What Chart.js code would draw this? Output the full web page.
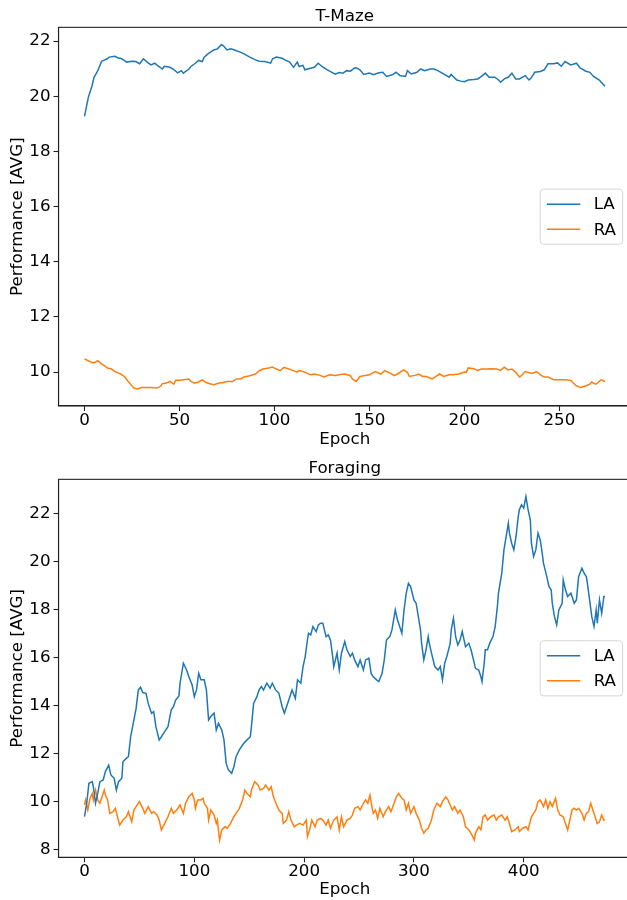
<!DOCTYPE html>
<html>
<head>
<meta charset="utf-8">
<script src="https://cdn.jsdelivr.net/npm/chart.js@4/dist/chart.umd.min.js"></script>
<style>
  html, body { margin: 0; padding: 0; background: #fff; overflow: hidden; width: 627px; height: 900px; }
  canvas { position: absolute; left: 0; }
  #tmaze { top: 0; }
  #foraging { top: 450px; }
</style>
</head>
<body>
<canvas id="tmaze" width="640" height="450"></canvas>
<canvas id="foraging" width="640" height="450"></canvas>
<script>
// ---- T-Maze: average performance per epoch ----
const tmazeLaEpochs = [0,2,4,5,7,9,10,12,13,16,18,19,21,22,25,27,29,31,33,35,37,38,41,42,45,47,49,51,52,55,56,58,60,62,63,65,68,70,72,73,75,77,79,82,84,87,90,92,95,98,99,101,104,106,108,110,112,113,115,116,119,121,123,125,127,129,132,134,136,138,140,142,143,145,147,150,152,155,157,159,162,164,166,169,170,172,175,177,179,182,184,186,189,192,193,196,198,200,202,205,207,209,211,213,216,218,219,221,223,225,227,229,232,234,235,237,240,242,244,247,249,251,253,256,259,261,264,266,268,271,272,274];
const tmazeLaValues = [19.27,19.96,20.39,20.69,20.93,21.27,21.30,21.36,21.42,21.45,21.38,21.38,21.30,21.24,21.27,21.26,21.18,21.36,21.24,21.14,21.20,21.14,20.99,21.09,21.05,20.97,20.85,20.93,20.84,20.99,21.08,21.18,21.30,21.26,21.42,21.54,21.68,21.72,21.87,21.84,21.68,21.72,21.68,21.60,21.54,21.42,21.32,21.27,21.26,21.20,21.36,21.42,21.38,21.30,21.24,21.05,21.24,21.08,21.12,20.96,21.02,21.05,21.20,21.08,20.99,20.91,20.80,20.86,20.84,20.93,20.91,21.02,21.03,20.96,20.79,20.84,20.78,20.85,20.87,20.72,20.78,20.87,20.75,20.72,20.93,20.81,20.87,20.99,20.93,20.99,20.99,20.93,20.81,20.69,20.79,20.59,20.55,20.53,20.59,20.61,20.63,20.72,20.84,20.69,20.69,20.59,20.51,20.63,20.69,20.84,20.63,20.63,20.75,20.59,20.65,20.87,20.90,20.96,21.18,21.18,21.21,21.09,21.26,21.14,21.20,21.02,20.91,20.87,20.72,20.59,20.51,20.36];
const tmazeRaEpochs = [0,2,4,5,7,9,11,12,14,16,18,19,21,23,25,26,28,30,33,35,38,40,41,43,45,47,48,50,52,55,56,58,60,62,64,66,68,71,73,75,78,80,82,84,87,90,92,94,97,99,101,103,105,106,109,112,113,116,119,121,124,126,129,132,134,137,140,141,143,145,148,150,153,156,158,161,163,165,168,170,171,174,176,178,180,183,185,187,189,192,194,197,200,201,202,205,207,209,212,214,217,219,221,223,225,227,229,230,232,235,236,238,240,242,244,247,250,253,256,258,259,261,263,266,267,269,270,272,274];
const tmazeRaValues = [10.48,10.41,10.35,10.33,10.41,10.30,10.21,10.15,10.12,10.02,9.96,9.93,9.84,9.66,9.50,9.42,9.39,9.44,9.44,9.44,9.42,9.48,9.58,9.60,9.66,9.56,9.70,9.70,9.72,9.75,9.66,9.60,9.64,9.72,9.62,9.58,9.54,9.60,9.62,9.66,9.66,9.75,9.75,9.82,9.87,9.93,10.05,10.11,10.15,10.18,10.11,10.05,10.17,10.15,10.08,10.00,10.06,10.00,9.90,9.93,9.88,9.82,9.90,9.88,9.90,9.93,9.87,9.75,9.66,9.84,9.88,9.90,10.02,9.93,10.05,9.96,9.87,9.94,10.08,9.99,9.84,9.88,9.93,9.84,9.84,9.75,9.84,9.93,9.84,9.90,9.90,9.93,10.00,9.99,10.15,10.12,10.06,10.11,10.11,10.12,10.11,10.06,10.18,10.08,10.11,9.99,9.82,9.87,10.02,9.96,9.96,10.02,9.90,9.82,9.82,9.72,9.72,9.72,9.70,9.56,9.50,9.44,9.48,9.56,9.64,9.56,9.60,9.72,9.66];
const tmazeXTicks = [0, 50, 100, 150, 200, 250];
const tmazeYTicks = [10, 12, 14, 16, 18, 20, 22];

// ---- Foraging: average performance per epoch ----
const foragingLaEpochs = [0,2,4,7,8,10,12,14,17,19,22,24,27,29,31,34,35,38,40,42,45,47,49,51,53,56,58,61,63,65,68,70,73,76,79,81,83,86,87,89,90,93,95,98,100,102,104,106,109,111,113,115,118,120,122,125,127,129,131,134,136,138,141,145,148,151,152,154,157,159,161,163,166,169,171,174,177,180,182,184,187,189,192,194,197,199,201,203,204,206,208,211,213,215,217,220,222,224,226,227,230,232,234,237,239,242,244,246,249,251,254,256,259,261,263,266,268,271,273,275,278,280,283,285,287,289,291,293,295,297,300,302,305,306,307,309,311,313,314,316,319,322,324,326,328,330,333,334,336,338,340,342,344,345,347,350,352,355,356,359,361,362,364,365,367,369,372,374,376,377,380,382,384,386,387,389,391,393,395,396,398,400,402,404,406,407,409,411,413,415,416,418,421,423,425,426,428,430,432,435,436,438,440,443,446,448,450,453,455,457,458,460,462,464,466,467,469,471,473,474];
const foragingLaValues = [9.36,9.92,10.75,10.82,10.61,9.92,10.33,10.82,10.89,11.24,11.51,11.10,10.96,10.47,10.82,10.96,11.65,11.79,11.86,12.69,13.39,13.88,14.64,14.75,14.53,14.50,14.08,13.67,13.74,13.11,12.56,12.69,12.90,13.11,13.81,13.94,14.22,14.39,14.92,15.47,15.75,15.47,15.19,14.85,14.36,14.64,15.33,15.06,15.06,14.64,13.39,13.53,13.67,12.97,13.25,12.97,12.56,11.58,11.31,11.17,11.44,11.86,12.14,12.42,12.56,12.69,13.11,14.08,14.36,14.64,14.78,14.64,14.92,14.71,14.92,14.64,14.50,13.94,13.67,13.94,14.36,14.64,14.29,15.06,14.92,15.61,16.03,16.72,17.00,16.93,17.28,17.07,17.35,17.42,17.42,16.86,16.93,16.72,16.03,15.61,16.17,15.47,16.17,16.65,16.31,16.03,16.17,15.89,15.61,15.89,15.47,15.89,15.96,15.33,15.19,15.06,14.99,15.33,15.89,16.72,16.86,17.14,17.97,17.56,17.28,17.00,17.97,18.67,19.08,18.94,18.39,18.25,17.42,17.14,16.58,15.89,16.31,16.86,16.58,16.17,15.61,15.47,15.61,15.06,15.75,16.03,16.58,17.14,17.63,16.86,16.51,16.72,17.07,16.86,16.44,16.58,16.31,15.75,15.54,15.47,15.19,14.99,15.75,16.31,16.31,16.58,16.86,17.28,18.11,18.67,19.50,20.47,21.03,21.58,21.17,20.75,20.47,21.03,21.86,22.14,22.35,22.21,22.69,22.14,21.72,20.75,20.19,20.47,21.17,20.89,20.61,19.92,19.36,18.94,18.81,18.25,17.69,17.35,17.97,18.25,19.22,18.81,18.53,18.67,18.25,18.39,19.36,19.71,19.50,19.36,19.08,18.39,17.69,17.28,17.97,17.42,18.39,17.83,18.53,18.53];
const foragingRaEpochs = [0,1,3,5,7,8,10,12,14,16,18,19,21,23,26,28,30,32,35,38,40,43,45,47,50,53,55,58,61,63,66,68,70,73,76,79,81,84,87,90,92,95,98,100,101,103,106,108,109,112,113,115,118,120,121,123,125,128,130,133,136,138,141,144,146,148,151,152,155,158,160,163,165,168,170,172,175,177,180,181,184,186,188,191,193,196,199,202,203,205,207,210,212,215,217,220,222,224,227,230,232,234,236,239,242,244,246,249,251,254,256,258,260,262,263,265,267,269,272,274,277,279,282,284,286,289,291,293,295,297,300,302,305,307,309,311,313,316,318,321,324,326,329,331,333,335,337,340,342,345,347,350,352,355,356,359,361,363,365,367,370,373,375,377,380,383,385,387,389,392,395,396,399,402,404,407,409,411,413,415,418,420,422,424,426,429,431,433,436,438,440,442,444,446,448,450,453,455,457,459,461,463,465,467,469,471,473,474];
const foragingRaValues = [9.85,10.06,9.64,10.13,10.33,10.06,10.47,10.06,9.92,10.19,10.47,10.26,10.06,9.50,9.57,9.71,9.36,9.01,9.22,9.36,9.57,9.15,9.64,9.78,9.99,9.71,9.50,9.78,9.50,9.57,9.43,9.22,8.81,9.08,9.36,9.71,9.50,9.64,9.85,9.50,9.92,10.19,10.33,10.06,9.71,10.06,10.06,10.13,9.92,9.71,9.22,9.64,9.43,9.08,9.22,8.39,8.81,8.94,8.88,9.08,9.36,9.50,9.71,10.06,10.47,10.33,10.19,10.47,10.82,10.68,10.47,10.54,10.68,10.47,10.61,10.19,9.85,9.64,9.50,9.08,9.22,9.57,9.22,8.94,9.01,9.08,9.01,9.22,8.53,8.81,9.22,8.94,9.22,9.29,9.22,9.01,9.22,8.88,9.22,9.36,8.81,9.36,8.94,9.22,9.29,9.43,9.71,9.78,9.64,9.92,10.06,9.92,10.26,9.71,9.50,9.64,9.29,9.71,9.36,9.57,9.78,9.57,9.92,10.19,10.33,10.13,10.06,9.64,9.92,9.50,9.78,9.50,9.22,8.88,8.67,8.81,8.88,9.22,9.64,9.92,9.78,9.99,10.19,10.06,9.85,9.64,9.78,9.50,9.64,9.36,8.94,8.81,8.67,8.39,8.67,8.94,8.81,9.36,9.43,9.22,9.36,9.43,9.22,9.36,9.43,9.22,9.36,9.08,8.74,8.81,8.94,8.74,8.88,8.94,8.81,9.36,9.50,9.64,9.99,10.06,9.78,10.06,9.71,9.99,9.78,10.13,9.64,9.43,9.36,9.08,8.81,9.22,9.64,9.71,9.64,9.71,9.50,9.22,9.50,9.57,9.92,9.64,9.36,9.08,9.15,9.43,9.22,9.25];
const foragingXTicks = [0, 100, 200, 300, 400];
const foragingYTicks = [8, 10, 12, 14, 16, 18, 20, 22];

const seriesLabels = ['LA', 'RA'];
const seriesColors = ['#1f77b4', '#ff7f0e'];

const FONT_FAMILY = '"DejaVu Sans", "Liberation Sans", sans-serif';
const FS = 16.7;
const baseFont = { family: FONT_FAMILY, size: FS, weight: 'normal', lineHeight: 1.2 };

Chart.defaults.font.family = FONT_FAMILY;
Chart.defaults.color = '#000';

// Closed frame around the plotting area (top and right spines).
const axesFrame = {
  id: 'axesFrame',
  afterDraw(chart) {
    const { ctx, chartArea: a } = chart;
    ctx.save();
    ctx.strokeStyle = '#222';
    ctx.lineWidth = 1.1;
    ctx.strokeRect(a.left, a.top, a.right - a.left, a.bottom - a.top);
    ctx.restore();
  }
};

// Legend box placed at the centre-right of the plotting area.
const boxLegend = {
  id: 'boxLegend',
  afterDraw(chart) {
    const { ctx, chartArea: a } = chart;
    const sets = chart.data.datasets;
    ctx.save();
    ctx.font = `${FS}px ${FONT_FAMILY}`;
    const tw = Math.max(...sets.map(d => ctx.measureText(d.label).width));
    const pad = 0.4 * FS, hl = 2 * FS, hp = 0.8 * FS, ls = 0.5 * FS;
    const w = pad + hl + hp + tw + pad;
    const h = 2 * pad + sets.length * FS + (sets.length - 1) * ls;
    const x = a.right - 0.5 * FS - w;
    const y = (a.top + a.bottom) / 2 - h / 2;
    ctx.beginPath();
    ctx.roundRect(x, y, w, h, 0.2 * FS);
    ctx.fillStyle = 'rgba(255,255,255,0.8)';
    ctx.fill();
    ctx.strokeStyle = '#d6d6d6';
    ctx.lineWidth = 1;
    ctx.stroke();
    ctx.textBaseline = 'middle';
    ctx.textAlign = 'left';
    sets.forEach((d, i) => {
      const cy = y + pad + i * (FS + ls) + FS / 2;
      ctx.beginPath();
      ctx.moveTo(x + pad, cy);
      ctx.lineTo(x + pad + hl, cy);
      ctx.strokeStyle = d.borderColor;
      ctx.lineWidth = d.borderWidth;
      ctx.stroke();
      ctx.fillStyle = '#000';
      ctx.fillText(d.label, x + pad + hl + hp, cy + 1);
    });
    ctx.restore();
  }
};

function pairs(xs, ys) {
  return xs.map((x, i) => ({ x, y: ys[i] }));
}

function makeChart(id, opts) {
  return new Chart(document.getElementById(id), {
    type: 'line',
    data: {
      datasets: opts.series.map((s, i) => ({
        label: seriesLabels[i],
        data: pairs(s[0], s[1]),
        borderColor: seriesColors[i],
        backgroundColor: seriesColors[i],
        borderWidth: 1.5,
        pointRadius: 0,
        tension: 0,
        fill: false
      }))
    },
    options: {
      responsive: false,
      animation: false,
      devicePixelRatio: 1,
      layout: { padding: { left: 0, right: 9, top: 0, bottom: 0 } },
      plugins: {
        legend: { display: false },
        tooltip: { enabled: false },
        title: {
          display: true,
          text: opts.title,
          fullSize: false,
          color: '#000',
          font: baseFont,
          padding: { top: opts.titleTop, bottom: opts.titleBottom }
        }
      },
      scales: {
        x: {
          type: 'linear',
          min: opts.xMin,
          max: opts.xMax,
          afterBuildTicks: s => { s.ticks = opts.xTicks.map(v => ({ value: v })); },
          afterFit: s => { s.height = opts.xAxisHeight; },
          ticks: { font: { ...baseFont, lineHeight: 1.0 }, color: '#000', padding: 1, maxRotation: 0, autoSkip: false },
          grid: { drawOnChartArea: false, drawTicks: true, tickLength: 5, tickWidth: 1.1, tickColor: '#222' },
          border: { display: true, color: '#222', width: 1.1 },
          title: { display: true, text: 'Epoch', color: '#000', font: baseFont, padding: { top: 0, bottom: opts.xTitlePad } }
        },
        y: {
          type: 'linear',
          min: opts.yMin,
          max: opts.yMax,
          afterBuildTicks: s => { s.ticks = opts.yTicks.map(v => ({ value: v })); },
          afterFit: s => { s.width = 58.5; },
          ticks: { font: baseFont, color: '#000', padding: 3 },
          grid: { drawOnChartArea: false, drawTicks: true, tickLength: 5, tickWidth: 1.1, tickColor: '#222' },
          border: { display: true, color: '#222', width: 1.1 },
          title: { display: true, text: 'Performance [AVG]', color: '#000', font: baseFont, padding: { top: 8, bottom: 0 } }
        }
      }
    },
    plugins: [axesFrame, boxLegend]
  });
}

makeChart('tmaze', {
  title: 'T-Maze',
  series: [[tmazeLaEpochs, tmazeLaValues], [tmazeRaEpochs, tmazeRaValues]],
  xTicks: tmazeXTicks, yTicks: tmazeYTicks,
  xMin: -13.7, xMax: 287.7, yMin: 8.77, yMax: 22.5,
  titleTop: 6.3, titleBottom: 1, xAxisHeight: 44, xTitlePad: 0.7
});

makeChart('foraging', {
  title: 'Foraging',
  series: [[foragingLaEpochs, foragingLaValues], [foragingRaEpochs, foragingRaValues]],
  xTicks: foragingXTicks, yTicks: foragingYTicks,
  xMin: -23.7, xMax: 497.7, yMin: 7.67, yMax: 23.41,
  titleTop: 8.3, titleBottom: 1, xAxisHeight: 42.7, xTitlePad: 0
});
</script>
</body>
</html>
